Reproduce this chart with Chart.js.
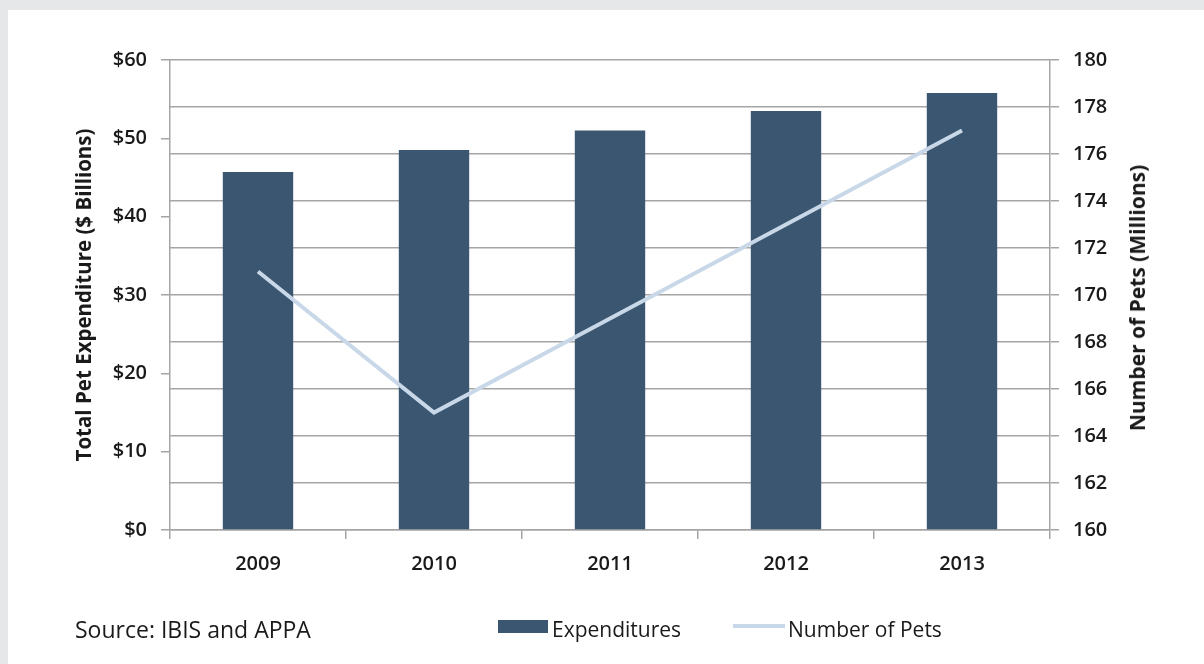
<!DOCTYPE html>
<html>
<head>
<meta charset="utf-8">
<script src="https://cdn.jsdelivr.net/npm/chart.js@4.4.1/dist/chart.umd.min.js"></script>
<style>
    html, body { margin: 0; padding: 0; }
    body { width: 1204px; height: 664px; background: #e6e7e9; position: relative; overflow: hidden; font-family: 'Open Sans', sans-serif; color: #1a1a1a; }
    #panel { position: absolute; left: 8px; top: 10px; right: 0; bottom: 0; background: #ffffff; }
    #chart { position: absolute; left: 0; top: 0; }
    .foot { position: absolute; font-size: 21px; line-height: 24px; white-space: nowrap; }
    .swatch { position: absolute; }
    #rightTitle { position: absolute; left: 1137px; top: 298px; transform: translate(-50%, -50%) rotate(-90deg);
                  font-size: 21px; font-weight: bold; line-height: 24px; white-space: nowrap; }
</style>
</head>
<body>
<div id="panel"></div>
<canvas id="chart" width="1204" height="664"></canvas>
<div id="rightTitle">Number of Pets (Millions)</div>
<div class="foot" style="left:75px; top:617px; font-size:23px;">Source: IBIS and APPA</div>
<div class="swatch" style="left:498px; top:620px; width:50px; height:13px; background:#3b5670;"></div>
<div class="foot" style="left:552px; top:617px;">Expenditures</div>
<div class="swatch" style="left:733px; top:624px; width:52px; height:4px; background:#c8d8e8;"></div>
<div class="foot" style="left:788px; top:617px;">Number of Pets</div>
<script>
// Chart data
const years = ['2009', '2010', '2011', '2012', '2013'];
const expenditures = [45.7, 48.5, 51.0, 53.5, 55.8];   // $ billions
const numberOfPets = [171, 165, 169, 173, 177];         // millions

const axisColor = '#a5a5a5';
const textColor = '#1a1a1a';
const tickFont = { family: 'Open Sans', size: 20, weight: '600' };
const titleFont = { family: 'Open Sans', size: 20.5, weight: 'bold' };

document.addEventListener('DOMContentLoaded', () => {
    initPetChart();
});

function initPetChart() {
    new Chart(document.getElementById('chart'), {
        type: 'bar',
        data: {
            labels: years,
            datasets: [
                {
                    type: 'line',
                    label: 'Number of Pets',
                    data: numberOfPets,
                    yAxisID: 'y1',
                    borderColor: '#c8d8e8',
                    borderWidth: 4,
                    pointRadius: 0,
                    tension: 0,
                    order: 0
                },
                {
                    type: 'bar',
                    label: 'Expenditures',
                    data: expenditures,
                    yAxisID: 'y',
                    backgroundColor: '#3b5670',
                    categoryPercentage: 1,
                    barPercentage: 0.4,
                    order: 1
                }
            ]
        },
        options: {
            responsive: false,
            animation: false,
            layout: { padding: { left: 73, right: 56, top: 60, bottom: 0 } },
            plugins: {
                legend: { display: false },
                tooltip: { enabled: false }
            },
            scales: {
                x: {
                    offset: true,
                    grid: { offset: true, drawOnChartArea: false, tickLength: 9, color: axisColor, lineWidth: 1.5 },
                    border: { color: axisColor, width: 1.5 },
                    ticks: { color: textColor, font: tickFont, padding: 13 },
                    afterFit: (axis) => { axis.height = 134; }
                },
                y: {
                    position: 'left',
                    min: 0,
                    max: 60,
                    grid: { drawOnChartArea: false, tickLength: 9, color: axisColor, lineWidth: 1.5 },
                    border: { color: axisColor, width: 1.5 },
                    ticks: { stepSize: 10, color: textColor, font: tickFont, padding: 14, callback: (v) => '$' + v },
                    title: { display: true, text: 'Total Pet Expenditure ($ Billions)', color: textColor, font: titleFont, padding: 0 },
                    afterFit: (axis) => { axis.width = 97; }
                },
                y1: {
                    position: 'right',
                    min: 160,
                    max: 180,
                    grid: { drawOnChartArea: true, tickLength: 9, color: axisColor, lineWidth: 1.5 },
                    border: { color: axisColor, width: 1.5 },
                    ticks: { stepSize: 2, color: textColor, font: tickFont, padding: 14 },
                    afterFit: (axis) => { axis.width = 98; }
                }
            }
        }
    });
}
</script>
</body>
</html>
